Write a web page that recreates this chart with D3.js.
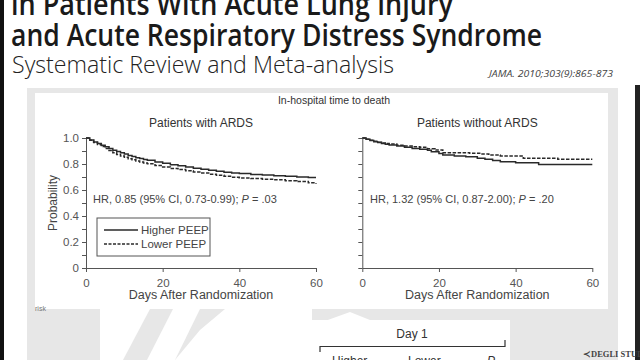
<!DOCTYPE html>
<html><head><meta charset="utf-8">
<script src="https://cdn.jsdelivr.net/npm/d3@7"></script>
<style>html,body{margin:0;padding:0;background:#fff;overflow:hidden}</style>
</head><body><svg id="c" width="640" height="360"></svg>
<script>
// ---- data ----
const xTicks = [0, 20, 40, 60];
const yMajor = [0, 0.2, 0.4, 0.6, 0.8, 1.0];
const yMinor = [0.1, 0.3, 0.5, 0.7, 0.9];
const panelTitles = ["Patients with ARDS", "Patients without ARDS"];
const hrTexts = [["HR, 0.85 (95% CI, 0.73-0.99); ", ".03"], ["HR, 1.32 (95% CI, 0.87-2.00); ", ".20"]];
const seriesNames = ["Higher PEEP", "Lower PEEP"];

const ardsHighDays = [0,1,2,3,4,5,6,7,8,9,10,11,12,13,14,15,16,18,20,22,24,26,28,30,32,34,36,38,40,43,46,49,52,55,58,60];
const ardsHighProb = [1.0,0.985,0.97,0.958,0.945,0.932,0.92,0.906,0.896,0.886,0.876,0.866,0.857,0.849,0.842,0.835,0.829,0.816,0.805,0.795,0.786,0.777,0.768,0.76,0.751,0.744,0.737,0.731,0.726,0.72,0.715,0.71,0.705,0.70,0.697,0.697];
const ardsLowDays  = [0,1,2,3,4,5,6,7,8,9,10,11,12,13,14,15,16,18,20,22,24,26,28,30,32,34,36,38,40,43,46,49,52,55,58,60];
const ardsLowProb  = [1.0,0.982,0.965,0.95,0.935,0.92,0.903,0.886,0.874,0.862,0.851,0.841,0.832,0.823,0.815,0.808,0.801,0.788,0.776,0.766,0.757,0.748,0.739,0.731,0.722,0.714,0.706,0.699,0.693,0.688,0.683,0.678,0.672,0.665,0.655,0.648];

const nonHighDays = [0,1,2,3,4,5,6,7,9,11,13,15,17,18,20,21,24,27,30,32,34,36,38,40,43,46,50,55,60];
const nonHighProb = [1.0,0.99,0.98,0.972,0.965,0.958,0.952,0.946,0.938,0.928,0.92,0.913,0.905,0.895,0.88,0.869,0.862,0.856,0.845,0.836,0.826,0.818,0.818,0.81,0.81,0.797,0.797,0.797,0.797];
const nonLowDays  = [0,1,2,3,4,5,6,7,9,11,13,15,17,19,21,24,28,31,33,36,40,42,46,51,55,60];
const nonLowProb  = [1.0,0.99,0.982,0.975,0.968,0.962,0.957,0.953,0.945,0.938,0.933,0.928,0.918,0.908,0.887,0.887,0.882,0.877,0.869,0.862,0.862,0.844,0.844,0.836,0.836,0.836];

// ---- drawing ----
const svg = d3.select("#c");
const zip = (a, b) => a.map((d, i) => [d, b[i]]);

// slide background
svg.append("rect").attr("width", 640).attr("height", 360).attr("fill", "#fff");
svg.append("rect").attr("x", 27).attr("y", 88).attr("width", 591).attr("height", 272).attr("fill", "#e7e7e7");
svg.append("rect").attr("x", 35).attr("y", 93).attr("width", 573).attr("height", 216).attr("fill", "#fff");
// watermark-like white shapes in lower area
const wm = [
  [[100,309],[150,309],[123,360],[100,360]],
  [[173,309],[200,309],[175,360],[147,360]],
  [[200,330],[225,309],[312,309],[312,360],[175,360]],
  [[300,330],[350,312],[395,330],[312,330]]
];
svg.selectAll("polygon.wm").data(wm).join("polygon").attr("class","wm")
  .attr("points", d => d.map(p => p.join(",")).join(" ")).attr("fill", "#fff");
svg.append("rect").attr("x", 312).attr("y", 320).attr("width", 198).attr("height", 40).attr("fill", "#fff");
svg.append("rect").attr("x", 0).attr("y", 0).attr("width", 4).attr("height", 360).attr("fill", "#111");
svg.append("rect").attr("x", 635).attr("y", 85).attr("width", 5).attr("height", 275).attr("fill", "#222");

// titles
svg.append("text").attr("x", 11).attr("y", 15).attr("font-family", "Open Sans").attr("font-weight", 600)
  .attr("font-size", 30).attr("fill", "#1a1a1a").attr("textLength", 442).attr("lengthAdjust", "spacingAndGlyphs")
  .text("in Patients With Acute Lung Injury");
svg.append("text").attr("x", 11).attr("y", 46).attr("font-family", "Open Sans").attr("font-weight", 600)
  .attr("font-size", 30).attr("fill", "#1a1a1a").attr("textLength", 531).attr("lengthAdjust", "spacingAndGlyphs")
  .text("and Acute Respiratory Distress Syndrome");
svg.append("text").attr("x", 12).attr("y", 73).attr("font-family", "Open Sans").attr("font-weight", 300)
  .attr("font-size", 24).attr("fill", "#222").attr("textLength", 382).attr("lengthAdjust", "spacingAndGlyphs")
  .text("Systematic Review and Meta-analysis");
svg.append("text").attr("x", 489).attr("y", 77).attr("font-family", "Open Sans").attr("font-style", "italic")
  .attr("font-size", 9.5).attr("fill", "#444").attr("textLength", 124).attr("lengthAdjust", "spacingAndGlyphs")
  .text("JAMA. 2010;303(9):865-873");

const font = "Liberation Sans, Arial, sans-serif";
svg.append("text").attr("x", 334).attr("y", 104).attr("text-anchor", "middle").attr("font-family", font)
  .attr("font-size", 10.5).attr("fill", "#333").text("In-hospital time to death");

const y = d3.scaleLinear().domain([0, 1]).range([268, 138]);
const panels = [
  { x: d3.scaleLinear().domain([0, 60]).range([86, 316]), title: panelTitles[0], hr: hrTexts[0], hrX: 93, labels: true,
    series: [zip(ardsHighDays, ardsHighProb), zip(ardsLowDays, ardsLowProb)] },
  { x: d3.scaleLinear().domain([0, 60]).range([362.3, 592.3]), title: panelTitles[1], hr: hrTexts[1], hrX: 370, labels: false,
    series: [zip(nonHighDays, nonHighProb), zip(nonLowDays, nonLowProb)] }
];

panels.forEach(p => {
  const g = svg.append("g");
  const cx = (p.x.range()[0] + p.x.range()[1]) / 2;
  // y axis
  const ya = g.append("g").attr("transform", `translate(${p.x.range()[0]},0)`)
    .call(d3.axisLeft(y).tickValues(yMajor).tickSize(4).tickSizeOuter(0)
      .tickFormat(d => p.labels ? (d === 0 ? "0" : d3.format(".1f")(d)) : ""));
  const ym = g.append("g").attr("transform", `translate(${p.x.range()[0]},0)`)
    .call(d3.axisLeft(y).tickValues(yMinor).tickSize(4).tickFormat(""));
  ym.select(".domain").remove();
  const xa = g.append("g").attr("transform", `translate(0,268)`)
    .call(d3.axisBottom(p.x).tickValues(xTicks).tickSize(4).tickSizeOuter(0));
  [ya, ym, xa].forEach(a => {
    a.selectAll("path,line").attr("stroke", "#555");
    a.selectAll("text").attr("font-family", font).attr("font-size", 11.5).attr("fill", "#555");
  });
  xa.selectAll("text").attr("dy", "1.05em");
  // title
  g.append("text").attr("x", cx).attr("y", 127).attr("text-anchor", "middle").attr("font-family", font)
    .attr("font-size", 12).attr("fill", "#333").text(p.title);
  g.append("text").attr("x", cx).attr("y", 299).attr("text-anchor", "middle").attr("font-family", font)
    .attr("font-size", 12.5).attr("fill", "#444").text("Days After Randomization");
  const hr = g.append("text").attr("x", p.hrX).attr("y", 203).attr("font-family", font)
    .attr("font-size", 11).attr("fill", "#444");
  hr.append("tspan").text(p.hr[0]);
  hr.append("tspan").attr("font-style", "italic").text("P");
  hr.append("tspan").text(" = " + p.hr[1]);
  // curves
  const line = d3.line().x(d => p.x(d[0])).y(d => y(d[1])).curve(d3.curveStepAfter);
  p.series.forEach((s, i) => {
    g.append("path").datum(s).attr("d", line).attr("fill", "none").attr("stroke", "#2a2a2a")
      .attr("stroke-width", 1.5).attr("stroke-dasharray", i === 1 ? "3.5,1.5" : null);
  });
});

// y label
svg.append("text").attr("transform", "translate(57,203) rotate(-90)").attr("text-anchor", "middle")
  .attr("font-family", font).attr("font-size", 12).attr("fill", "#444").text("Probability");

// legend
const lg = svg.append("g");
lg.append("rect").attr("x", 97).attr("y", 218).attr("width", 113).attr("height", 38)
  .attr("fill", "#fff").attr("stroke", "#555").attr("stroke-width", 1);
seriesNames.forEach((n, i) => {
  const yy = 230 + i * 14;
  lg.append("line").attr("x1", 104).attr("x2", 138).attr("y1", yy).attr("y2", yy).attr("stroke", "#2a2a2a")
    .attr("stroke-width", 1.3).attr("stroke-dasharray", i === 1 ? "3,1.5" : null);
  lg.append("text").attr("x", 141).attr("y", yy + 4).attr("font-family", font).attr("font-size", 11.5)
    .attr("fill", "#444").text(n);
});

// small leftovers
svg.append("text").attr("x", 35).attr("y", 311).attr("font-family", font).attr("font-size", 7)
  .attr("fill", "#777").text("risk");

// table fragment
svg.append("text").attr("x", 412).attr("y", 338).attr("text-anchor", "middle").attr("font-family", font)
  .attr("font-size", 12).attr("fill", "#333").text("Day 1");
svg.append("path").attr("d", "M320,352V346.5H505V340").attr("fill", "none").attr("stroke", "#333").attr("stroke-width", 1.2);
[["Higher", 332], ["Lower", 408], ["P", 487]].forEach(([t, xx]) => {
  svg.append("text").attr("x", xx).attr("y", 365).attr("font-family", font).attr("font-size", 12)
    .attr("font-style", t === "P" ? "italic" : null).attr("fill", "#333").text(t);
});
svg.append("text").attr("x", 583).attr("y", 357).attr("font-family", "Liberation Serif, serif").attr("font-weight", "bold")
  .attr("font-size", 8.5).attr("fill", "#444").text("≺DEGLI STUDI");
</script></body></html>
